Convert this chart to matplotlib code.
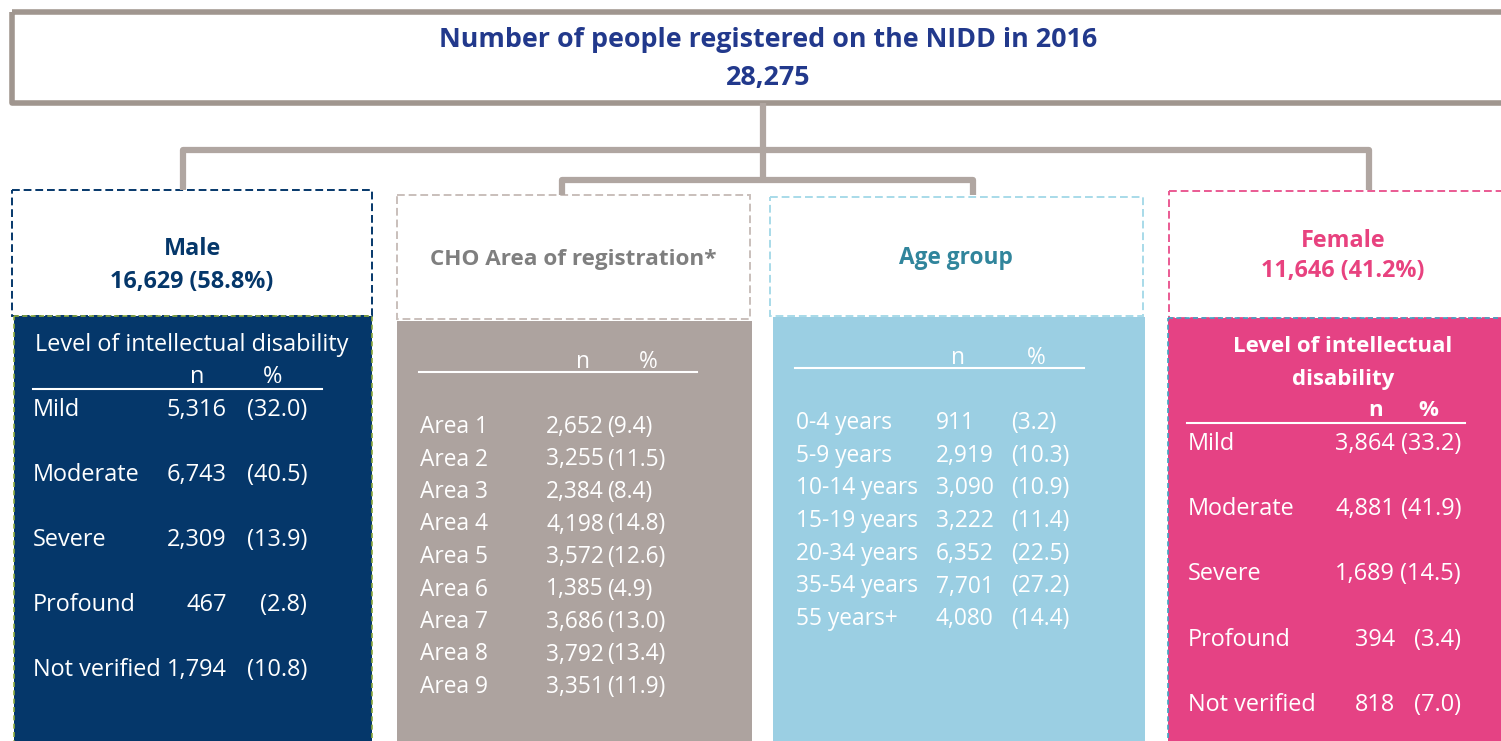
import matplotlib.pyplot as plt
from matplotlib.patches import Rectangle

plt.rcParams['font.family'] = ['Open Sans', 'DejaVu Sans']

# data
total_registered = 28275
year = 2016
male_total, male_share = 16629, 58.8
female_total, female_share = 11646, 41.2

levels = ['Mild', 'Moderate', 'Severe', 'Profound', 'Not verified']
male_n = [5316, 6743, 2309, 467, 1794]
male_pct = [32.0, 40.5, 13.9, 2.8, 10.8]
female_n = [3864, 4881, 1689, 394, 818]
female_pct = [33.2, 41.9, 14.5, 3.4, 7.0]

areas = ['Area 1', 'Area 2', 'Area 3', 'Area 4', 'Area 5',
         'Area 6', 'Area 7', 'Area 8', 'Area 9']
area_n = [2652, 3255, 2384, 4198, 3572, 1385, 3686, 3792, 3351]
area_pct = [9.4, 11.5, 8.4, 14.8, 12.6, 4.9, 13.0, 13.4, 11.9]

age_groups = ['0-4 years', '5-9 years', '10-14 years', '15-19 years',
              '20-34 years', '35-54 years', '55 years+']
age_n = [911, 2919, 3090, 3222, 6352, 7701, 4080]
age_pct = [3.2, 10.3, 10.9, 11.4, 22.5, 27.2, 14.4]

# colours
navy = '#05376a'
title_blue = '#22398c'
grey_fill = '#ada39f'
blue_fill = '#9bcfe3'
pink = '#e54284'
line_col = '#b0a6a1'

fig = plt.figure(figsize=(15.01, 7.41), dpi=100)
ax = fig.add_axes([0, 0, 1, 1])
ax.set_xlim(0, 1501)
ax.set_ylim(741, 0)
ax.axis('off')

DY = 3  # va='center' sits a little high


def txt(x, y, s, **kw):
    kw.setdefault('va', 'center')
    ax.text(x, y + DY, s, **kw)


# top box
ax.add_patch(Rectangle((12, 12), 1520, 91, fill=False, ec='#a0968f', lw=4, joinstyle='round'))
txt(768, 37, f'Number of people registered on the NIDD in {year}', ha='center',
    fontsize=19.4, fontweight='bold', color=title_blue)
txt(768, 75, f'{total_registered:,}', ha='center',
    fontsize=19.4, fontweight='bold', color=title_blue)

# connectors
kw = dict(color=line_col, lw=4.5, solid_capstyle='butt', solid_joinstyle='round')
ax.plot([763, 763], [103, 180], **kw)
ax.plot([183, 183, 1369, 1369], [190, 150, 150, 190], **kw)
ax.plot([562, 562, 973, 973], [195, 180, 180, 195], **kw)


# header boxes
def header(x0, y0, x1, y1, ec):
    ax.add_patch(Rectangle((x0, y0), x1 - x0, y1 - y0, fc='white', ec=ec, lw=1.4, ls=(0, (4, 2))))


header(12, 190, 372, 316, navy)
header(397, 195, 750, 319, '#c9bfbb')
header(770, 197, 1143, 316, '#a8dbe9')
header(1169, 191, 1540, 318, '#ea5a93')

# body panels
ax.add_patch(Rectangle((14, 316), 358, 440, fc=navy, ec='#8fab3e', lw=1.2, ls=(0, (3, 2))))
ax.add_patch(Rectangle((397, 321), 355, 430, fc=grey_fill, ec='none'))
ax.add_patch(Rectangle((773, 317), 372, 430, fc=blue_fill, ec='none'))
ax.add_patch(Rectangle((1168, 318), 380, 430, fc=pink, ec='#3ea6c4', lw=1.2, ls=(0, (3, 2))))

# header titles
hb = dict(ha='center', fontweight='bold')
txt(192, 246, 'Male', color=navy, fontsize=16.8, **hb)
txt(192, 279, f'{male_total:,} ({male_share}%)', color=navy, fontsize=16.8, **hb)
txt(573, 256, 'CHO Area of registration*', color='#7f7f7f', fontsize=16.2, **hb)
txt(956, 255, 'Age group', color='#31859c', fontsize=16.3, **hb)
txt(1343, 238, 'Female', color='#e8427f', fontsize=16.8, **hb)
txt(1343, 268, f'{female_total:,} ({female_share}%)', color='#e8427f', fontsize=16.8, **hb)

wt = dict(color='white')
big = 16.9
small = 16.4

# male panel
txt(192, 342, 'Level of intellectual disability', ha='center', fontsize=big, **wt)
txt(197, 374, 'n', ha='center', fontsize=big, **wt)
txt(273, 374, '%', ha='center', fontsize=big, **wt)
ax.plot([33, 322], [389, 389], color='white', lw=1.5)
for i, (lab, n, p) in enumerate(zip(levels, male_n, male_pct)):
    y = 407 + i * 65
    txt(33, y, lab, ha='left', fontsize=big, **wt)
    txt(227, y, f'{n:,}', ha='right', fontsize=big, **wt)
    txt(307, y, f'({p:.1f})', ha='right', fontsize=big, **wt)

# CHO panel
txt(583, 359, 'n', ha='center', fontsize=small, **wt)
txt(648, 359, '%', ha='center', fontsize=small, **wt)
ax.plot([419, 697], [372, 372], color='white', lw=1.5)
for i, (lab, n, p) in enumerate(zip(areas, area_n, area_pct)):
    y = 424 + i * 32.5
    txt(420, y, lab, ha='left', fontsize=small, **wt)
    txt(604, y, f'{n:,}', ha='right', fontsize=small, **wt)
    txt(607, y, f'({p:.1f})', ha='left', fontsize=small, **wt)

# age panel
txt(958, 355, 'n', ha='center', fontsize=small, **wt)
txt(1036, 355, '%', ha='center', fontsize=small, **wt)
ax.plot([795, 1084], [368, 368], color='white', lw=1.5)
for i, (lab, n, p) in enumerate(zip(age_groups, age_n, age_pct)):
    y = 420 + i * 32.7
    txt(796, y, lab, ha='left', fontsize=small, **wt)
    txt(936, y, f'{n:,}', ha='left', fontsize=small, **wt)
    txt(1011, y, f'({p:.1f})', ha='left', fontsize=small, **wt)

# female panel
txt(1343, 343, 'Level of intellectual', ha='center', fontsize=16, fontweight='bold', **wt)
txt(1343, 376, 'disability', ha='center', fontsize=16, fontweight='bold', **wt)
txt(1376, 408, 'n', ha='center', fontsize=16, fontweight='bold', **wt)
txt(1428, 408, '%', ha='center', fontsize=16, fontweight='bold', **wt)
ax.plot([1187, 1465], [423, 423], color='white', lw=1.5)
for i, (lab, n, p) in enumerate(zip(levels, female_n, female_pct)):
    y = 441 + i * 65.2
    txt(1188, y, lab, ha='left', fontsize=big, **wt)
    txt(1395, y, f'{n:,}', ha='right', fontsize=big, **wt)
    txt(1461, y, f'({p:.1f})', ha='right', fontsize=big, **wt)

fig.savefig('out.png', dpi=100)
